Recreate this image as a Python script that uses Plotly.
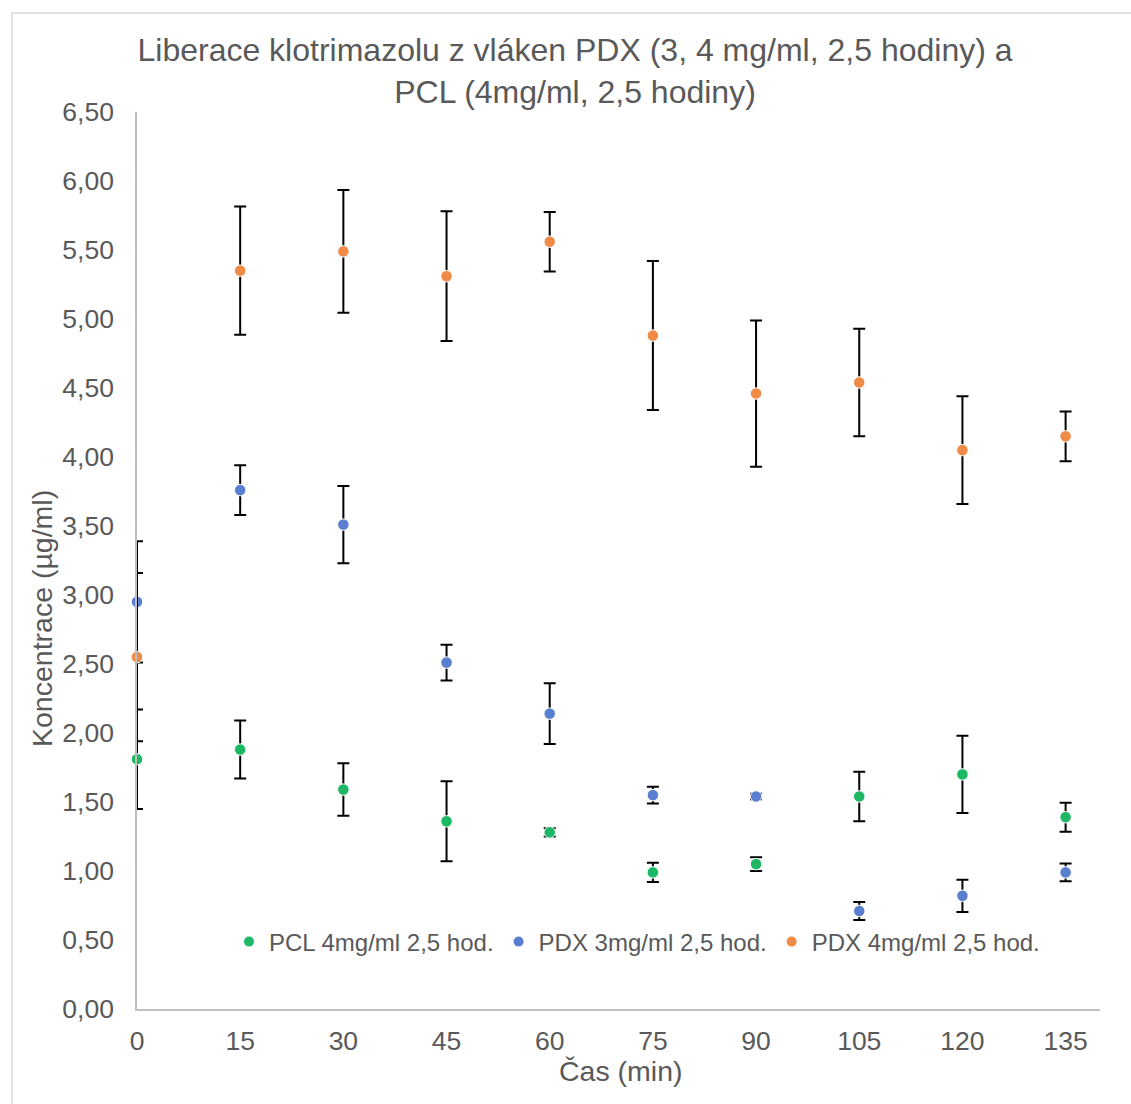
import plotly.graph_objects as go

time_min = [0, 15, 30, 45, 60, 75, 90, 105, 120, 135]

pcl4_mean = [1.81, 1.88, 1.59, 1.36, 1.28, 0.99, 1.05, 1.54, 1.70, 1.39]
pcl4_err = [0.36, 0.21, 0.19, 0.29, 0.03, 0.07, 0.05, 0.18, 0.28, 0.105]

pdx3_mean = [2.95, 3.76, 3.51, 2.51, 2.14, 1.55, 1.54, 0.71, 0.82, 0.99]
pdx3_err = [0.44, 0.18, 0.28, 0.13, 0.22, 0.06, 0.02, 0.065, 0.117, 0.065]

pdx4_mean = [2.55, 5.35, 5.49, 5.31, 5.56, 4.88, 4.46, 4.54, 4.05, 4.15]
pdx4_err = [0.61, 0.465, 0.445, 0.47, 0.215, 0.54, 0.53, 0.39, 0.39, 0.18]

series = [
    ("PCL 4mg/ml 2,5 hod.", pcl4_mean, pcl4_err, "#1db865"),
    ("PDX 3mg/ml 2,5 hod.", pdx3_mean, pdx3_err, "#5b7fd0"),
    ("PDX 4mg/ml 2,5 hod.", pdx4_mean, pdx4_err, "#ef8a47"),
]

x_ticks = [0, 15, 30, 45, 60, 75, 90, 105, 120, 135]
y_ticks = [0, 0.5, 1, 1.5, 2, 2.5, 3, 3.5, 4, 4.5, 5, 5.5, 6, 6.5]

FONT = "Liberation Sans, Arial, sans-serif"
GREY = "#595959"

fig = go.Figure()
for name, m, e, c in series:
    fig.add_trace(go.Scatter(
        x=time_min, y=m, mode="markers", name=name,
        marker=dict(color=c, size=11.5, line=dict(color="white", width=1)),
        error_y=dict(type="data", array=e, visible=True, color="black",
                     thickness=2, width=6),
        cliponaxis=False,
    ))

W, H = 1131, 1104
L, R, T, B = 137, 31, 112, 95
pw, ph = W - L - R, H - T - B

fig.update_layout(
    width=W, height=H,
    margin=dict(l=L, r=R, t=T, b=B),
    paper_bgcolor="white", plot_bgcolor="white",
    separators=", ",
    font=dict(family=FONT, color=GREY, size=26),
    title=dict(
        text="Liberace klotrimazolu z vláken PDX (3, 4 mg/ml, 2,5 hodiny) a<br>PCL (4mg/ml, 2,5 hodiny)",
        x=575 / W, xanchor="center", y=1 - 61 / H, yanchor="middle",
        font=dict(family=FONT, size=32, color=GREY),
    ),
    xaxis=dict(
        range=[0, 140], tickvals=x_ticks, showgrid=False, zeroline=False,
        showline=True, linecolor="#bfbfbf", linewidth=1.5,
        ticks="", ticklabelstandoff=7,
        tickfont=dict(size=26.5, color=GREY),
    ),
    yaxis=dict(
        range=[0, 6.5], tickvals=y_ticks, tickformat=".2f", showgrid=False,
        zeroline=False, showline=True, linecolor="#bfbfbf", linewidth=1.5,
        ticks="", ticklabelstandoff=16,
        tickfont=dict(size=26.5, color=GREY),
    ),
    legend=dict(
        orientation="h", x=(229 - L) / pw, xanchor="left",
        y=(1009 - 942) / ph, yanchor="middle",
        font=dict(size=24, color=GREY), bgcolor="rgba(0,0,0,0)",
        itemsizing="constant", itemwidth=30, tracegroupgap=0,
    ),
    showlegend=True,
    annotations=[
        dict(text="Čas (min)", xref="paper", yref="paper",
             x=(621 - L) / pw, y=(1009 - 1071) / ph, xanchor="center",
             yanchor="middle", showarrow=False,
             font=dict(family=FONT, size=28.5, color=GREY)),
        dict(text="Koncentrace (µg/ml)", xref="paper", yref="paper",
             x=(42 - L) / pw, y=(1009 - 619) / ph, xanchor="center",
             yanchor="middle", showarrow=False, textangle=-90,
             font=dict(family=FONT, size=28.5, color=GREY)),
    ],
    shapes=[
        dict(type="rect", xref="paper", yref="paper",
             x0=(12 - L) / pw, x1=(W + 5 - L) / pw,
             y0=-(H + 5 - 1009) / ph, y1=(1009 - 13) / ph,
             line=dict(color="#d9d9d9", width=1.5), layer="below"),
    ],
)

fig.write_html("out.html")
